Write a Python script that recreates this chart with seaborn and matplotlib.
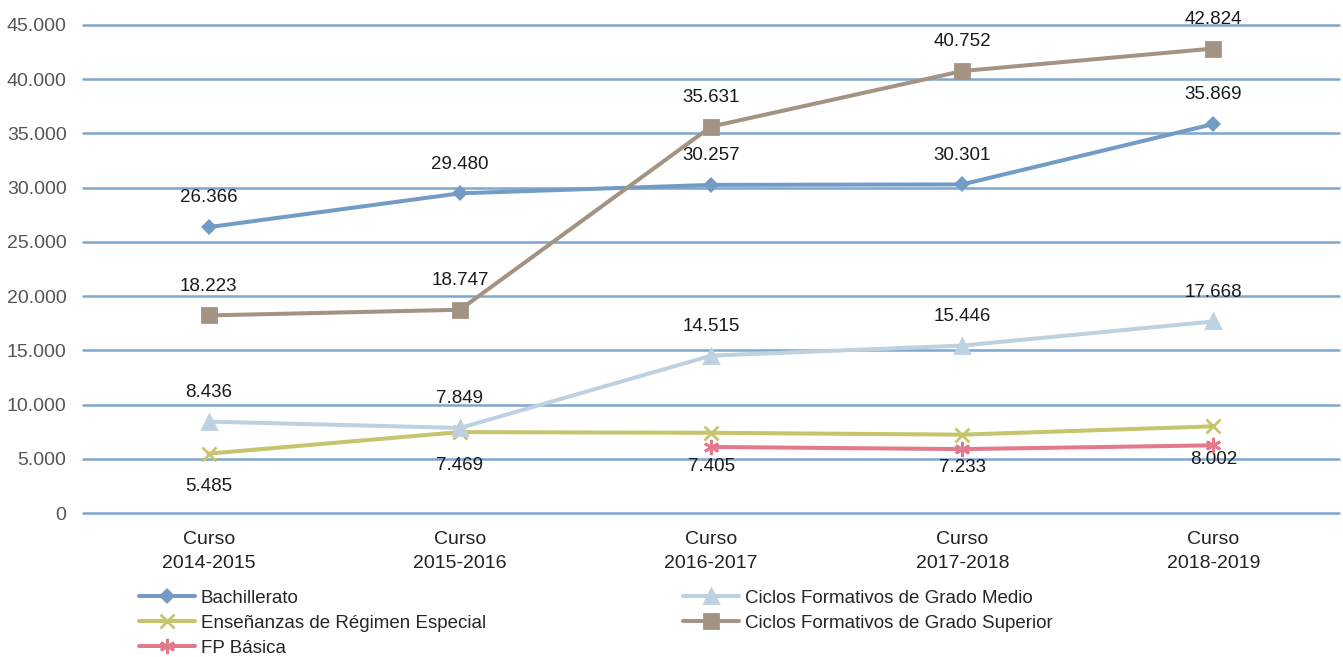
import numpy as np
import pandas as pd
import matplotlib
matplotlib.use("Agg")
import matplotlib.pyplot as plt
import seaborn as sns

cursos = ["Curso\n2014-2015", "Curso\n2015-2016", "Curso\n2016-2017", "Curso\n2017-2018", "Curso\n2018-2019"]
bachillerato = [26366, 29480, 30257, 30301, 35869]
grado_medio = [8436, 7849, 14515, 15446, 17668]
regimen_especial = [5485, 7469, 7405, 7233, 8002]
grado_superior = [18223, 18747, 35631, 40752, 42824]
fp_basica = [np.nan, np.nan, 6100, 5900, 6250]  # sin etiquetas en el original, valores estimados
y_ticks = [0, 5000, 10000, 15000, 20000, 25000, 30000, 35000, 40000, 45000]

series = [
    ("Bachillerato", bachillerato, "#729cc6", "D", 8, "above"),
    ("Enseñanzas de Régimen Especial", regimen_especial, "#c6c46c", "x", 10, "below"),
    ("FP Básica", fp_basica, "#e27a8c", (6, 2, 0), 11, None),
    ("Ciclos Formativos de Grado Medio", grado_medio, "#bdd1e1", "^", 10, "above"),
    ("Ciclos Formativos de Grado Superior", grado_superior, "#a39383", "s", 10, "above"),
]


def fmt(v):
    return f"{int(v):,}".replace(",", ".")


sns.set_style("white")
plt.rcParams["font.family"] = ["Liberation Sans", "DejaVu Sans"]

fig = plt.figure(figsize=(13.43, 6.57), dpi=100)
ax = fig.add_axes([0.062, 0.219, 0.935, 0.743])

for y in y_ticks:
    ax.axhline(y, color="#7ea7cd", lw=1.8, zorder=0, clip_on=False)

x = np.arange(len(cursos))
for name, vals, color, marker, ms, pos in series:
    df = pd.DataFrame({"x": x, "y": vals}).dropna()
    sns.lineplot(data=df, x="x", y="y", ax=ax, color=color, lw=2.9, marker=marker,
                 markersize=ms, markeredgecolor=color, markeredgewidth=2 if marker != "D" else 0,
                 label=name, zorder=3)
    if pos is None:
        continue
    for xi, v in zip(df["x"], df["y"]):
        off = 21 if pos == "above" else -24
        ax.annotate(fmt(v), (xi, v), xytext=(0, off), textcoords="offset points",
                    ha="center", va="center", fontsize=13.5, color="#1a1a1a")

ax.set_xlim(-0.5, 4.5)
ax.set_ylim(0, 45000)
ax.set_yticks(y_ticks)
ax.set_yticklabels([fmt(t) for t in y_ticks], color="#555555", fontsize=14)
ax.set_xticks(x)
ax.set_xticklabels(cursos, fontsize=14, color="#222222", linespacing=1.55)
ax.tick_params(axis="y", length=0, pad=12)
ax.tick_params(axis="x", length=0, pad=13)
ax.set_xlabel("")
ax.set_ylabel("")
sns.despine(ax=ax, left=True, bottom=True)

ax.get_legend().remove()
handles, labels = ax.get_legend_handles_labels()
fig.legend(handles, labels, loc="upper left", bbox_to_anchor=(0.098, 0.114), ncol=2,
           frameon=False, handlelength=3.0, handletextpad=0.3, columnspacing=10.5,
           labelspacing=0.42, borderaxespad=0,
           prop={"size": 13.5})

fig.savefig("out.png", dpi=100)
